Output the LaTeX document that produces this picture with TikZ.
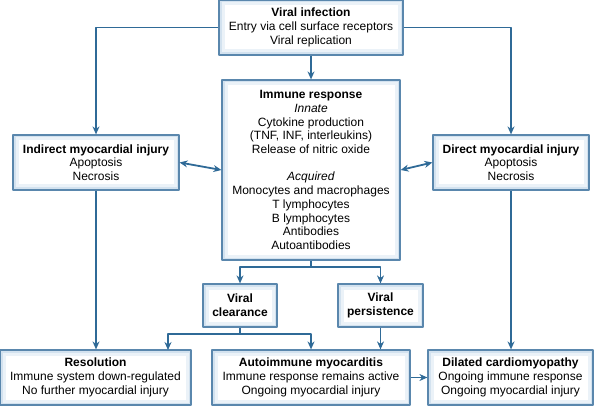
\documentclass[tikz,border=0pt]{standalone}
\usepackage{fontspec}
\setmainfont{Liberation Sans}
\usetikzlibrary{arrows.meta}
\definecolor{boxline}{HTML}{5A87AD}
\definecolor{glowA}{HTML}{D3E2EF}
\definecolor{glowB}{HTML}{EBF2F8}
\definecolor{arrowc}{HTML}{2F6A97}
\begin{document}
\begin{tikzpicture}[x=1pt, y=-1pt, font=\fontsize{12}{13.7}\selectfont, line join=round, >={Stealth[length=8pt,width=7pt]},
	box/.style={draw=boxline, line width=1.2pt, fill=white, align=center, inner sep=2pt,
		path picture={\draw[glowB, line width=11pt] (path picture bounding box.south west) rectangle (path picture bounding box.north east);
			\draw[glowA, line width=5pt] (path picture bounding box.south west) rectangle (path picture bounding box.north east);}},
	arr/.style={draw=arrowc, line width=1.8pt, ->},
	link/.style={draw=arrowc, line width=1.8pt}]
	\useasboundingbox (0,0) rectangle (594,406);
	% boxes
	\node[box, minimum width=184, minimum height=55] (vi) at (311,27.5) {\textbf{Viral infection}\\Entry via cell surface receptors\\Viral replication};
	\node[box, minimum width=178, minimum height=180] (imm) at (311,170) {\textbf{Immune response}\\\textit{Innate}\\Cytokine production\\(TNF, INF, interleukins)\\Release of nitric oxide\\[13.7pt]\textit{Acquired}\\Monocytes and macrophages\\T lymphocytes\\B lymphocytes\\Antibodies\\Autoantibodies};
	\node[box, minimum width=166, minimum height=55] (ind) at (96,162.5) {\textbf{Indirect myocardial injury}\\Apoptosis\\Necrosis};
	\node[box, minimum width=156, minimum height=55] (dir) at (511,162.5) {\textbf{Direct myocardial injury}\\Apoptosis\\Necrosis};
	\node[box, minimum width=74, minimum height=43] (vc) at (240,305.5) {\textbf{Viral}\\\textbf{clearance}};
	\node[box, minimum width=85, minimum height=43] (vp) at (380.5,305.5) {\textbf{Viral}\\\textbf{persistence}};
	\node[box, minimum width=191, minimum height=55] (res) at (95.5,377.5) {\textbf{Resolution}\\Immune system down-regulated\\No further myocardial injury};
	\node[box, minimum width=198, minimum height=55] (aim) at (311,377.5) {\textbf{Autoimmune myocarditis}\\Immune response remains active\\Ongoing myocardial injury};
	\node[box, minimum width=165, minimum height=55] (dil) at (510.5,377.5) {\textbf{Dilated cardiomyopathy}\\Ongoing immune response\\Ongoing myocardial injury};
	% connectors
	\draw[arr] (vi.west) -| (ind.north);
	\draw[arr] (vi.east) -| (dir.north);
	\draw[arr] (vi.south) -- (imm.north);
	\draw[arr, <->] (ind.east) -- (imm.west);
	\draw[arr, <->] (imm.east) -- (dir.west);
	\draw[link] (imm.south) -- ++(0,6) coordinate (split1);
	\draw[arr] (split1) -| (vc.north);
	\draw[arr] (split1) -| (vp.north);
	\coordinate (resin) at (168,350);
	\draw[link] (vc.south) -- ++(0,6) coordinate (split2);
	\draw[arr] (split2) -| (resin);
	\draw[arr] (split2) -| (aim.north);
	\draw[arr] (vp.south) -- (vp.south |- aim.north);
	\draw[arr] (ind.south) -- (ind.south |- res.north);
	\draw[arr] (dir.south) -- (dir.south |- dil.north);
	\draw[arr] (aim.east) -- (dil.west);
\end{tikzpicture}
\end{document}
